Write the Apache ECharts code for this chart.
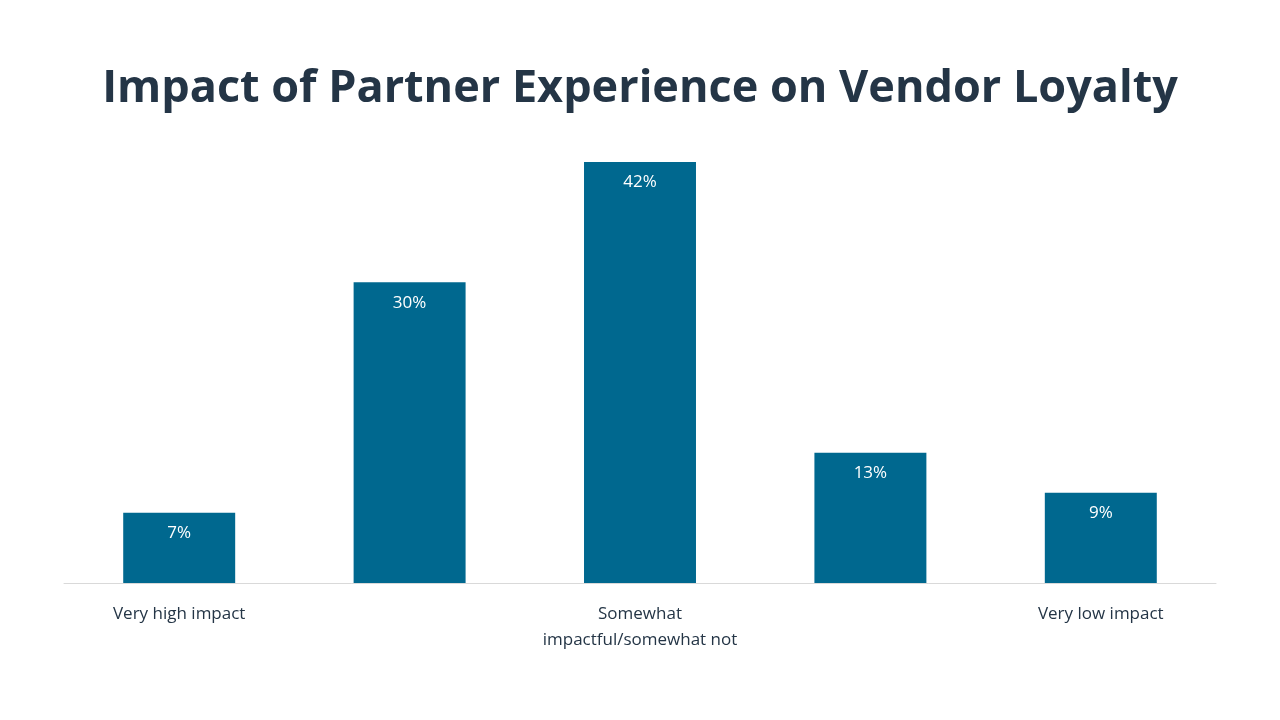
<!DOCTYPE html>
<html>
<head>
<meta charset="utf-8">
<script src="https://cdn.jsdelivr.net/npm/echarts@6/dist/echarts.min.js"></script>
<style>html,body{margin:0;padding:0;background:#fff}#chart{width:1280px;height:720px}</style>
</head>
<body>
<div id="chart"></div>
<script>
var categories = ['Very high impact', 'High impact', 'Somewhat\nimpactful/somewhat not', 'Low impact', 'Very low impact'];
var values = [7, 30, 42, 13, 9];

var myChart = echarts.init(document.getElementById('chart'));

var option = {
    backgroundColor: '#fff',
    title: {
        text: 'Impact of Partner Experience on Vendor Loyalty',
        left: 'center',
        top: 62,
        textStyle: {
            fontFamily: 'Open Sans',
            fontSize: 45,
            fontWeight: 'bold',
            color: '#243546'
        }
    },
    grid: {
        left: 64,
        right: 64,
        top: 162,
        bottom: 137
    },
    xAxis: {
        type: 'category',
        data: categories,
        axisTick: { show: false },
        axisLine: { lineStyle: { color: '#d9d9d9' } },
        axisLabel: {
            fontFamily: 'Open Sans',
            fontSize: 17,
            color: '#243546',
            margin: 18,
            lineHeight: 26
        }
    },
    yAxis: {
        type: 'value',
        min: 0,
        max: 42,
        show: false,
        splitLine: { show: false }
    },
    series: [
        {
            type: 'bar',
            barWidth: '48.6%',
            data: values,
            itemStyle: { color: '#00688f' },
            label: {
                show: true,
                position: 'insideTop',
                distance: 12,
                formatter: '{c}%',
                fontFamily: 'Open Sans',
                fontSize: 17,
                color: '#fff'
            }
        }
    ]
};

myChart.setOption(option);
</script>
</body>
</html>
